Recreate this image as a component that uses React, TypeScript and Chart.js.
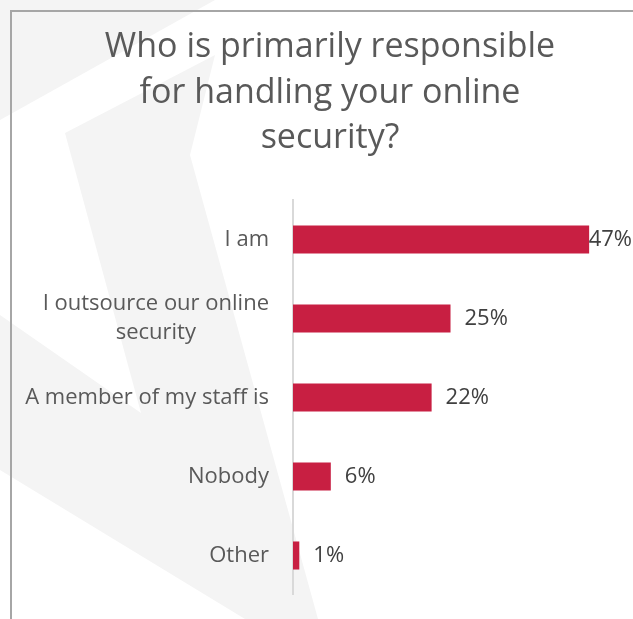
import React, { useEffect, useRef } from "react";
import { Chart, registerables } from "chart.js";

Chart.register(...registerables);

const titleLines = ["Who is primarily responsible", "for handling your online", "security?"];
const categories: string[][] = [
  ["I am"],
  ["I outsource our online", "security"],
  ["A member of my staff is"],
  ["Nobody"],
  ["Other"],
];
const shares = [47, 25, 22, 6, 1];
const valueLabels = ["47%", "25%", "22%", "6%", "1%"];

const FONT = "'Open Sans', 'Noto Sans', sans-serif";

const labelPlugin = {
  id: "customLabels",
  afterDatasetsDraw(chart: any) {
    const ctx = chart.ctx;
    const area = chart.chartArea;
    const yScale = chart.scales.y;
    const meta = chart.getDatasetMeta(0);
    ctx.save();
    // category labels
    ctx.font = `22px ${FONT}`;
    ctx.fillStyle = "#595959";
    ctx.textBaseline = "middle";
    ctx.textAlign = "center";
    const right = area.left - 24;
    const lh = 29;
    categories.forEach((lines, i) => {
      const cy = yScale.getPixelForValue(i);
      const w = Math.max(...lines.map((l) => ctx.measureText(l).width));
      const cx = right - w / 2;
      const top = cy - ((lines.length - 1) * lh) / 2;
      lines.forEach((l, j) => ctx.fillText(l, cx, top + j * lh));
    });
    // value labels
    ctx.font = `22px ${FONT}`;
    ctx.fillStyle = "#404040";
    ctx.textAlign = "left";
    meta.data.forEach((bar: any, i: number) => {
      const t = valueLabels[i];
      const w = ctx.measureText(t).width;
      const x = Math.min(bar.x + 14, area.right - 17 - w);
      ctx.fillText(t, x, bar.y);
    });
    ctx.restore();
  },
};

export default function App() {
  const ref = useRef<HTMLCanvasElement | null>(null);
  useEffect(() => {
    if (!ref.current) return;
    const chart = new Chart(ref.current, {
      type: "bar",
      data: {
        labels: categories.map((c) => c.join(" ")),
        datasets: [
          {
            data: shares,
            backgroundColor: "#C81F42",
            borderWidth: 0,
            categoryPercentage: 1,
            barPercentage: 0.355,
          },
        ],
      },
      options: {
        indexAxis: "y",
        animation: false,
        responsive: false,
        maintainAspectRatio: false,
        layout: { padding: 0 },
        plugins: {
          legend: { display: false },
          tooltip: { enabled: false },
          title: {
            display: true,
            text: titleLines,
            color: "#595959",
            font: { family: FONT, size: 34, weight: "normal", lineHeight: 45.5 / 34 },
            padding: { top: 14, bottom: 38.5 },
          },
        },
        scales: {
          x: {
            min: 0,
            max: 56.5,
            display: false,
          },
          y: {
            grid: { display: false },
            border: { display: true, color: "#d9d9d9", width: 2 },
            ticks: { display: false },
            afterFit(scale: any) {
              scale.width = 282;
            },
          },
        },
      },
      plugins: [labelPlugin],
    });
    return () => chart.destroy();
  }, []);

  return (
    <div style={{ position: "fixed", inset: 0, overflow: "hidden", background: "#ffffff" }}>
      <svg width={633} height={619} style={{ position: "absolute", left: 0, top: 0 }}>
        <polygon points="0,0 215,0 0,120" fill="#f4f4f4" />
        <polygon
          points="65,133 215,55 190,155 318,619 245,619 0,470 0,315 141,413"
          fill="#f4f4f4"
        />
      </svg>
      <div
        style={{
          position: "absolute",
          left: 10,
          top: 10,
          width: 700,
          height: 700,
          borderLeft: "2px solid #a6a6a6",
          borderTop: "2px solid #a6a6a6",
        }}
      />
      <canvas
        ref={ref}
        width={638}
        height={584}
        style={{ position: "absolute", left: 11, top: 11, width: 638, height: 584 }}
      />
    </div>
  );
}
